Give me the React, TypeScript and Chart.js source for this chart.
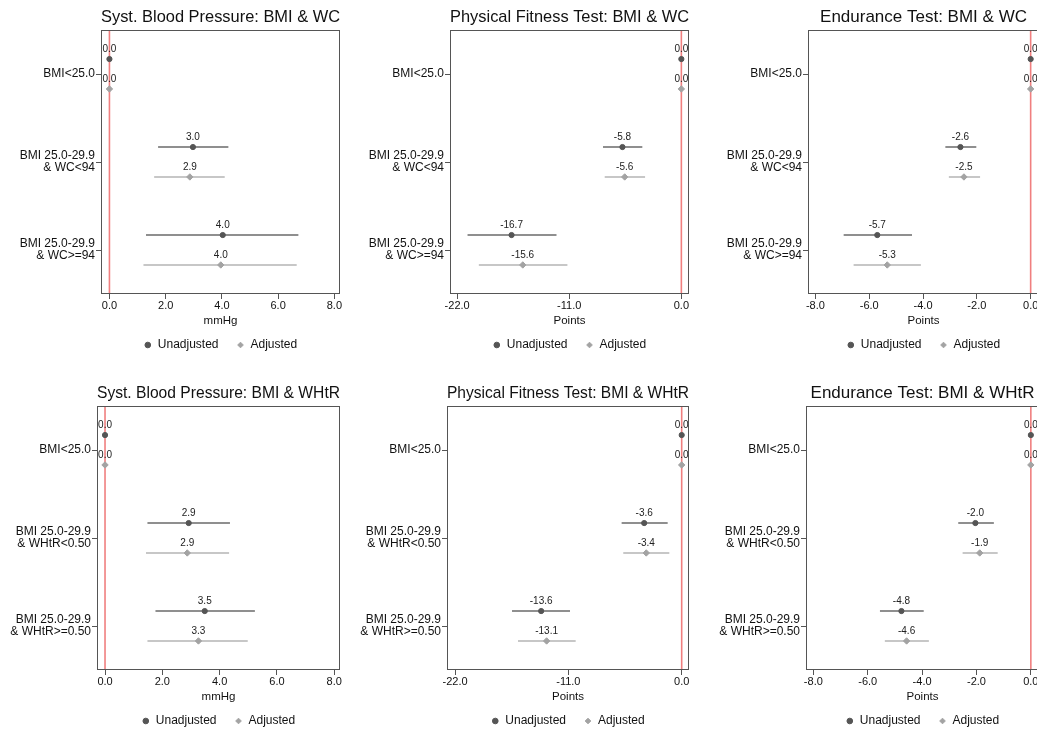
import React, { useEffect, useRef } from 'react';
import { Chart, registerables } from 'chart.js';

Chart.register(...registerables);

// [estimate, lower CI, upper CI]
type Row = [number, number, number];

const wcCategories: (string | string[])[] = ['BMI<25.0', ['BMI 25.0-29.9', '& WC<94'], ['BMI 25.0-29.9', '& WC>=94']];
const whtrCategories: (string | string[])[] = ['BMI<25.0', ['BMI 25.0-29.9', '& WHtR<0.50'], ['BMI 25.0-29.9', '& WHtR>=0.50']];
const seriesNames = ['Unadjusted', 'Adjusted'];

const bpTicks = [0, 2, 4, 6, 8];
const fitnessTicks = [-22, -11, 0];
const enduranceTicks = [-8, -6, -4, -2, 0];

const sbpWcUnadj: Row[] = [[0, 0, 0], [2.97, 1.73, 4.23], [4.03, 1.3, 6.72]];
const sbpWcAdj: Row[] = [[0, 0, 0], [2.86, 1.59, 4.1], [3.96, 1.21, 6.66]];
const fitWcUnadj: Row[] = [[0, 0, 0], [-5.78, -7.69, -3.83], [-16.66, -20.98, -12.25]];
const fitWcAdj: Row[] = [[0, 0, 0], [-5.56, -7.52, -3.56], [-15.56, -19.87, -11.18]];
const endWcUnadj: Row[] = [[0, 0, 0], [-2.61, -3.17, -2.02], [-5.7, -6.95, -4.41]];
const endWcAdj: Row[] = [[0, 0, 0], [-2.48, -3.04, -1.88], [-5.33, -6.58, -4.08]];

const sbpWhtrUnadj: Row[] = [[0, 0, 0], [2.92, 1.48, 4.36], [3.48, 1.76, 5.23]];
const sbpWhtrAdj: Row[] = [[0, 0, 0], [2.87, 1.43, 4.33], [3.26, 1.48, 4.98]];
const fitWhtrUnadj: Row[] = [[0, 0, 0], [-3.64, -5.83, -1.36], [-13.64, -16.47, -10.84]];
const fitWhtrAdj: Row[] = [[0, 0, 0], [-3.44, -5.67, -1.2], [-13.11, -15.89, -10.29]];
const endWhtrUnadj: Row[] = [[0, 0, 0], [-2.04, -2.67, -1.36], [-4.76, -5.55, -3.94]];
const endWhtrAdj: Row[] = [[0, 0, 0], [-1.88, -2.51, -1.22], [-4.57, -5.37, -3.75]];

const refValue = 0;

const FONT = "'Liberation Sans', Arial, Helvetica, sans-serif";
const ROW_OFFSET = 0.17;
const CANVAS_H = 361;
const UNADJ_COLOR = '#555555';
const UNADJ_LINE = '#6b6b6b';
const ADJ_COLOR = '#a3a3a3';
const ADJ_LINE = '#b5b5b5';
const FRAME = '#555555';

interface PanelCfg {
  title: string;
  unit: string;
  cats: (string | string[])[];
  unadj: Row[];
  adj: Row[];
  ticks: number[];
  min: number;
  max: number;
  left: number;
  top: number;
  width: number;
  yw: number;
}

const panels: PanelCfg[] = [
  { title: 'Syst. Blood Pressure: BMI & WC', unit: 'mmHg', cats: wcCategories, unadj: sbpWcUnadj, adj: sbpWcAdj, ticks: bpTicks, min: -0.3, max: 8.2, left: 0, top: 0, width: 352, yw: 101 },
  { title: 'Physical Fitness Test: BMI & WC', unit: 'Points', cats: wcCategories, unadj: fitWcUnadj, adj: fitWcAdj, ticks: fitnessTicks, min: -22.7, max: 0.75, left: 345, top: 0, width: 356, yw: 105 },
  { title: 'Endurance Test: BMI & WC', unit: 'Points', cats: wcCategories, unadj: endWcUnadj, adj: endWcAdj, ticks: enduranceTicks, min: -8.275, max: 0.31, left: 700, top: 0, width: 351, yw: 108 },
  { title: 'Syst. Blood Pressure: BMI & WHtR', unit: 'mmHg', cats: whtrCategories, unadj: sbpWhtrUnadj, adj: sbpWhtrAdj, ticks: bpTicks, min: -0.28, max: 8.2, left: 0, top: 376, width: 352, yw: 97 },
  { title: 'Physical Fitness Test: BMI & WHtR', unit: 'Points', cats: whtrCategories, unadj: fitWhtrUnadj, adj: fitWhtrAdj, ticks: fitnessTicks, min: -22.78, max: 0.71, left: 345, top: 376, width: 356, yw: 102 },
  { title: 'Endurance Test: BMI & WHtR', unit: 'Points', cats: whtrCategories, unadj: endWhtrUnadj, adj: endWhtrAdj, ticks: enduranceTicks, min: -8.27, max: 0.3, left: 700, top: 376, width: 351, yw: 106 },
];

const pointData = (rows: Row[], sign: number) =>
  rows.map((r, i) => ({ x: r[0], y: i + 1 + sign * ROW_OFFSET }));

const ciData = (rows: Row[], sign: number) =>
  rows.flatMap((r, i) =>
    r[1] === r[2]
      ? []
      : [
          { x: r[1], y: i + 1 + sign * ROW_OFFSET },
          { x: r[2], y: i + 1 + sign * ROW_OFFSET },
          { x: NaN, y: NaN },
        ]
  );

const forestPlugin = {
  id: 'forest',
  beforeDatasetsDraw(chart: any) {
    const { ctx, chartArea } = chart;
    const xs = chart.scales.x;
    const px = xs.getPixelForValue(refValue);
    ctx.save();
    ctx.strokeStyle = '#f07f7f';
    ctx.lineWidth = 1.6;
    ctx.beginPath();
    ctx.moveTo(px, chartArea.top);
    ctx.lineTo(px, chartArea.bottom);
    ctx.stroke();
    ctx.restore();
  },
  afterDatasetsDraw(chart: any) {
    const { ctx } = chart;
    ctx.save();
    ctx.font = `10px ${FONT}`;
    ctx.fillStyle = '#222';
    ctx.textAlign = 'center';
    ctx.textBaseline = 'middle';
    chart.data.datasets.forEach((ds: any, di: number) => {
      if (!ds.valueLabels) return;
      const meta = chart.getDatasetMeta(di);
      meta.data.forEach((el: any, i: number) => {
        const v = ds.data[i].x as number;
        ctx.fillText(v.toFixed(1), el.x, el.y - 9.5);
      });
    });
    ctx.restore();
  },
  afterDraw(chart: any) {
    const { ctx, chartArea } = chart;
    ctx.save();
    ctx.strokeStyle = FRAME;
    ctx.lineWidth = 1;
    const l = Math.round(chartArea.left) + 0.5;
    const t = Math.round(chartArea.top) + 0.5;
    const r = Math.round(chartArea.right) - 0.5;
    const b = Math.round(chartArea.bottom) - 0.5;
    ctx.strokeRect(l, t, r - l, b - t);
    ctx.restore();
  },
};

function Panel({ cfg }: { cfg: PanelCfg }) {
  const ref = useRef<HTMLCanvasElement>(null);
  useEffect(() => {
    const canvas = ref.current!;
    const chart = new Chart(canvas, {
      type: 'line',
      data: {
        datasets: [
          {
            label: seriesNames[0],
            data: pointData(cfg.unadj, -1),
            showLine: false,
            pointStyle: 'circle',
            pointRadius: 2.6,
            pointBackgroundColor: UNADJ_COLOR,
            pointBorderColor: UNADJ_COLOR,
            backgroundColor: UNADJ_COLOR,
            borderColor: UNADJ_COLOR,
            valueLabels: true,
          } as any,
          {
            label: seriesNames[1],
            data: pointData(cfg.adj, 1),
            showLine: false,
            pointStyle: 'rectRot',
            pointRadius: 3.2,
            pointBackgroundColor: ADJ_COLOR,
            pointBorderColor: ADJ_COLOR,
            backgroundColor: ADJ_COLOR,
            borderColor: ADJ_COLOR,
            valueLabels: true,
          } as any,
          {
            label: 'ci-unadj',
            data: ciData(cfg.unadj, -1),
            showLine: true,
            spanGaps: false,
            pointRadius: 0,
            borderColor: UNADJ_LINE,
            borderWidth: 1.4,
          },
          {
            label: 'ci-adj',
            data: ciData(cfg.adj, 1),
            showLine: true,
            spanGaps: false,
            pointRadius: 0,
            borderColor: ADJ_LINE,
            borderWidth: 1.4,
          },
        ],
      },
      options: {
        animation: false,
        responsive: false,
        events: [],
        layout: { padding: { left: 0, right: 12, top: 0, bottom: 0 } },
        scales: {
          x: {
            type: 'linear',
            min: cfg.min,
            max: cfg.max,
            afterBuildTicks: (s: any) => {
              s.ticks = cfg.ticks.map((v) => ({ value: v }));
            },
            ticks: {
              callback: (v: any) => Number(v).toFixed(1),
              font: { size: 11, family: FONT },
              color: '#111',
              padding: 0,
              maxRotation: 0,
              autoSkip: false,
            },
            grid: { drawOnChartArea: false, drawTicks: true, tickLength: 5, color: FRAME },
            border: { display: false },
            title: {
              display: true,
              text: cfg.unit,
              font: { size: 11.5, family: FONT },
              color: '#111',
              padding: { top: 1.5, bottom: -6.5 },
            },
          },
          y: {
            type: 'linear',
            reverse: true,
            min: 0.5,
            max: 3.5,
            afterBuildTicks: (s: any) => {
              s.ticks = cfg.cats.map((_, i) => ({ value: i + 1 }));
            },
            afterFit: (s: any) => {
              s.width = cfg.yw;
            },
            ticks: {
              callback: (v: any) => cfg.cats[Number(v) - 1] as any,
              font: { size: 12, family: FONT, lineHeight: 1.0 },
              color: '#111',
              padding: 1,
              autoSkip: false,
            },
            grid: { drawOnChartArea: false, drawTicks: true, tickLength: 5, color: FRAME },
            border: { display: false },
          },
        },
        plugins: {
          title: {
            display: true,
            text: cfg.title,
            fullSize: false,
            font: { size: 17, family: FONT, weight: 'normal' as any },
            color: '#111',
            padding: { top: 7, bottom: 2.6 },
          },
          legend: {
            display: true,
            position: 'bottom',
            fullSize: false,
            labels: {
              usePointStyle: true,
              boxWidth: 8,
              boxHeight: 4,
              padding: 18,
              font: { size: 12, family: FONT },
              color: '#111',
              filter: (item: any) => item.datasetIndex < 2,
            },
          },
          tooltip: { enabled: false },
        },
      },
      plugins: [forestPlugin],
    });
    return () => chart.destroy();
  }, []);
  return (
    <canvas
      ref={ref}
      width={cfg.width}
      height={CANVAS_H}
      style={{ position: 'absolute', left: cfg.left, top: cfg.top, width: cfg.width, height: CANVAS_H }}
    />
  );
}

export default function App() {
  return (
    <div
      style={{
        position: 'fixed',
        left: 0,
        top: 0,
        width: 1037,
        height: 729,
        overflow: 'hidden',
        background: '#fff',
      }}
    >
      {panels.map((p, i) => (
        <Panel key={i} cfg={p} />
      ))}
    </div>
  );
}
